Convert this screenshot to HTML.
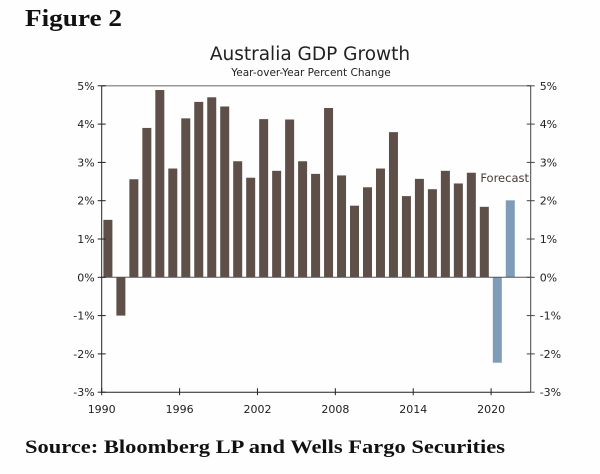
<!DOCTYPE html>
<html><head><meta charset="utf-8"><style>
body{margin:0;background:#fdfefd;}
svg{display:block;font-family:"DejaVu Sans","Liberation Sans",sans-serif;}
</style></head><body>
<svg id="chart" width="600" height="474" viewBox="0 0 600 474">
<rect x="0" y="0" width="600" height="474" fill="#fdfefd"/>
<text x="25" y="26" font-family="'Liberation Serif',serif" font-weight="bold" font-size="24" fill="#111" textLength="97" lengthAdjust="spacingAndGlyphs">Figure 2</text>
<text x="310" y="60" text-anchor="middle" font-size="18.5" fill="#222">Australia GDP Growth</text>
<text x="311" y="76" text-anchor="middle" font-size="10.5" fill="#222">Year-over-Year Percent Change</text>
<g id="grid"></g><g id="bars"></g><g id="axes"></g>
<text x="25" y="453" font-family="'Liberation Serif',serif" font-weight="bold" font-size="18.5" fill="#111" textLength="480" lengthAdjust="spacingAndGlyphs">Source: Bloomberg LP and Wells Fargo Securities</text>
</svg>
<script>
const years = [1990,1991,1992,1993,1994,1995,1996,1997,1998,1999,2000,2001,2002,2003,2004,2005,2006,2007,2008,2009,2010,2011,2012,2013,2014,2015,2016,2017,2018,2019,2020,2021];
const growth = [1.50,-1.00,2.56,3.90,4.89,2.84,4.15,4.58,4.70,4.46,3.03,2.60,4.13,2.78,4.12,3.03,2.70,4.42,2.66,1.87,2.35,2.84,3.79,2.12,2.57,2.30,2.78,2.45,2.73,1.84,-2.23,2.01];
const forecastFrom = 2020;
const yTicks = [5,4,3,2,1,0,-1,-2,-3];
const xTicks = [1990,1996,2002,2008,2014,2020];

const NS = "http://www.w3.org/2000/svg";
const X0 = 101.7, YW = 12.98, XR = 530.7;
const yZero = 277.3, yUnit = 38.3;
function xs(yr){ return X0 + (yr - 1990) * YW; }
function ys(v){ return yZero - v * yUnit; }
function mk(tag, attrs, parent){ const e = document.createElementNS(NS, tag); for (const k in attrs) e.setAttribute(k, attrs[k]); parent.appendChild(e); return e; }
const gridG = document.getElementById('grid'), barsG = document.getElementById('bars'), axesG = document.getElementById('axes');

const topLine = mk('line', {x1:X0, x2:XR, y1:ys(5), y2:ys(5), stroke:'#999', 'stroke-width':1.5}, gridG);



years.forEach((yr, i) => {
  const v = growth[i];
  const cx = xs(yr) + 6.2;
  const y1 = ys(Math.max(v, 0)), y2 = ys(Math.min(v, 0));
  const r = mk('rect', {x:cx - 4.5, y:y1, width:9, height:Math.max(0.5, y2 - y1), fill: yr >= forecastFrom ? '#7f9db8' : '#5e5049'}, barsG);
  
  
});

const zl = mk('line', {x1:X0, x2:XR, y1:yZero, y2:yZero, stroke:'#555', 'stroke-width':1}, axesG);


const la = mk('line', {x1:X0, x2:X0, y1:ys(5), y2:ys(-3), stroke:'#222', 'stroke-width':1}, axesG);


const ra = mk('line', {x1:XR, x2:XR, y1:ys(5), y2:ys(-3), stroke:'#444', 'stroke-width':1}, axesG);


const ba = mk('line', {x1:X0, x2:XR, y1:ys(-3), y2:ys(-3), stroke:'#222', 'stroke-width':1}, axesG);



yTicks.forEach(t => {
  const y = ys(t);
  mk('line', {x1:X0 - 4, x2:X0 + 4, y1:y, y2:y, stroke:'#222'}, axesG);
  mk('line', {x1:XR - 4, x2:XR + 4, y1:y, y2:y, stroke:'#444'}, axesG);
  const l = mk('text', {x:X0 - 7, y:y + 4, 'text-anchor':'end', 'font-size':11, fill:'#222'}, axesG);
  l.textContent = t + '%';
  
  
  const r = mk('text', {x:XR + 9, y:y + 4, 'font-size':11, fill:'#222'}, axesG);
  r.textContent = t + '%';
  
  
});
xTicks.forEach(t => {
  const x = xs(t);
  mk('line', {x1:x, x2:x, y1:ys(-3) - 4, y2:ys(-3) + 3, stroke:'#222'}, axesG);
  const l = mk('text', {x:x, y:413, 'text-anchor':'middle', 'font-size':11, fill:'#222'}, axesG);
  l.textContent = t;
  
  
});
const fc = mk('text', {x:529, y:182, 'text-anchor':'end', 'font-size':11.5, fill:'#4a3a35'}, axesG);
fc.textContent = 'Forecast';


</script>
</body></html>
